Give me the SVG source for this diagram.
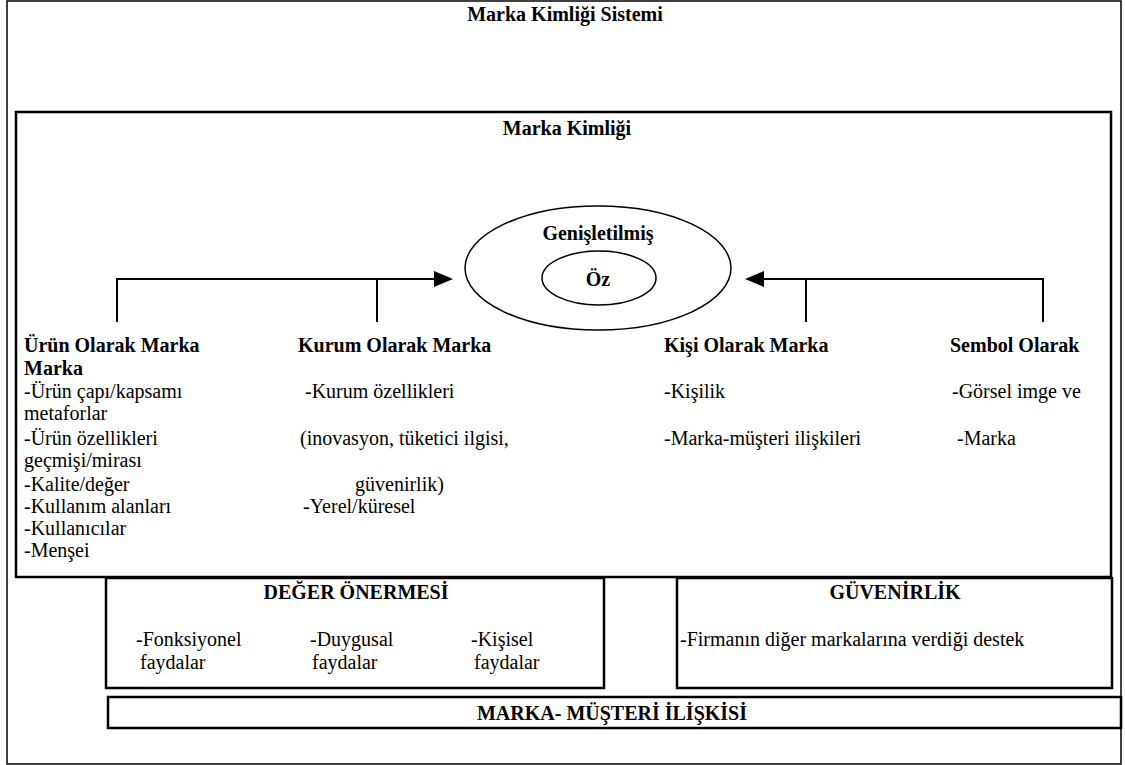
<svg xmlns="http://www.w3.org/2000/svg" width="1125" height="765" viewBox="0 0 1125 765">
<style>
text{font-family:'Liberation Serif','Times New Roman',serif;fill:#000;font-size:20px}
.b{font-weight:bold}
.c{text-anchor:middle}
.frame{fill:none;stroke:#000}
.ln{stroke:#000;stroke-width:2;fill:none}
.el{stroke:#000;stroke-width:1.5;fill:none}
</style>
<rect width="1125" height="765" fill="#fff"/>
<g id="system">
<rect class="frame" x="7" y="1" width="1114" height="763" stroke-width="1.5"/>
<text class="b c" x="565" y="21">Marka Kimliği Sistemi</text>
</g>
<g id="identity">
<rect class="frame" x="16" y="112" width="1095" height="465" stroke-width="2.5"/>
<text class="b c" x="567" y="135">Marka Kimliği</text>
</g>
<g id="core">
<ellipse cx="598" cy="268" rx="133" ry="62" class="el"/>
<text class="b c" x="598" y="240" font-size="21">Genişletilmiş</text>
<ellipse cx="599" cy="278" rx="57" ry="27" class="el"/>
<text class="b c" x="598" y="286" font-size="21">Öz</text>
</g>
<g id="connectors">
<path class="ln" d="M117,322 V279 H434"/>
<path d="M434,271 L453,279 L434,287 Z" fill="#000"/>
<path class="ln" d="M377,279 V322"/>
<path class="ln" d="M1043,322 V279 H764"/>
<path d="M764,271 L745,279 L764,287 Z" fill="#000"/>
<path class="ln" d="M806,279 V322"/>
</g>
<g id="urun">
<text class="b" x="24" y="352">Ürün Olarak Marka</text>
<text class="b" x="24" y="375">Marka</text>
<text x="24" y="398">-Ürün çapı/kapsamı</text>
<text x="24" y="420">metaforlar</text>
<text x="24" y="445">-Ürün özellikleri</text>
<text x="24" y="467">geçmişi/mirası</text>
<text x="24" y="491">-Kalite/değer</text>
<text x="24" y="513">-Kullanım alanları</text>
<text x="24" y="535">-Kullanıcılar</text>
<text x="24" y="557">-Menşei</text>
</g>
<g id="kurum">
<text class="b" x="298" y="352">Kurum Olarak Marka</text>
<text x="305" y="398">-Kurum özellikleri</text>
<text x="300" y="445">(inovasyon, tüketici ilgisi,</text>
<text x="355" y="491">güvenirlik)</text>
<text x="303" y="513">-Yerel/küresel</text>
</g>
<g id="kisi">
<text class="b" x="664" y="352">Kişi Olarak Marka</text>
<text x="664" y="398">-Kişilik</text>
<text x="664" y="445">-Marka-müşteri ilişkileri</text>
</g>
<g id="sembol">
<text class="b" x="950" y="352">Sembol Olarak</text>
<text x="952" y="398">-Görsel imge ve</text>
<text x="957" y="445">-Marka</text>
</g>
<g id="deger">
<rect class="frame" x="106" y="578" width="498" height="110" stroke-width="2.5"/>
<text class="b c" x="356" y="599">DEĞER ÖNERMESİ</text>
<text x="136" y="646">-Fonksiyonel</text>
<text x="140" y="669">faydalar</text>
<text x="310" y="646">-Duygusal</text>
<text x="312" y="669">faydalar</text>
<text x="471" y="646">-Kişisel</text>
<text x="474" y="669">faydalar</text>
</g>
<g id="guvenirlik">
<rect class="frame" x="677" y="578" width="435" height="110" stroke-width="2.5"/>
<text class="b c" x="895" y="599">GÜVENİRLİK</text>
<text x="680" y="646">-Firmanın diğer markalarına verdiği destek</text>
</g>
<g id="iliski">
<rect class="frame" x="108" y="697" width="1013" height="31" stroke-width="2.5"/>
<text class="b c" x="612" y="720">MARKA- MÜŞTERİ İLİŞKİSİ</text>
</g>
</svg>
